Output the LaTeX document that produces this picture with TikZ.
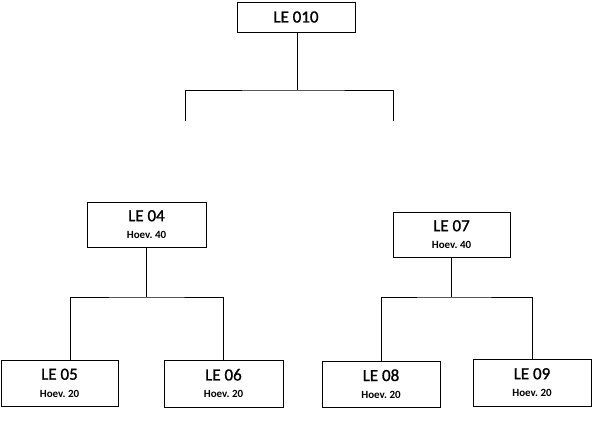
\documentclass[tikz,border=0pt]{standalone}
\usepackage{fontspec}
\setmainfont{Carlito}
\newfontfamily\medfont[FakeBold=1.2]{Carlito}
\frenchspacing
\newcommand{\bigtxt}[1]{{\medfont\fontsize{17}{19}\selectfont #1}}
\newcommand{\smalltxt}[1]{{\fontsize{11}{13}\selectfont\bfseries #1}}
\begin{document}
\begin{tikzpicture}[x=1pt,y=-1pt,
  box/.style={draw=black,line width=0.9pt,fill=white,inner sep=0pt,align=center},
  conn/.style={draw=black,line width=0.9pt}]
\useasboundingbox (0,0) rectangle (592,444);
\node[box,minimum width=118pt,minimum height=30pt] (le010) at (296,17) {\bigtxt{LE 010}};
\node[box,minimum width=119pt,minimum height=45pt] (le04) at (146.5,224.5) {\bigtxt{LE 04}\\[5.5pt]\smalltxt{Hoev. 40}};
\node[box,minimum width=117pt,minimum height=45pt] (le07) at (451.5,234.5) {\bigtxt{LE 07}\\[5.5pt]\smalltxt{Hoev. 40}};
\node[box,minimum width=117pt,minimum height=46pt] (le05) at (59.5,383) {\bigtxt{LE 05}\\[5.5pt]\smalltxt{Hoev. 20}};
\node[box,minimum width=119pt,minimum height=47pt] (le06) at (223.5,383.5) {\bigtxt{LE 06}\\[5.5pt]\smalltxt{Hoev. 20}};
\node[box,minimum width=118pt,minimum height=46pt] (le08) at (381,384) {\bigtxt{LE 08}\\[5.5pt]\smalltxt{Hoev. 20}};
\node[box,minimum width=118pt,minimum height=47pt] (le09) at (532,382.5) {\bigtxt{LE 09}\\[5.5pt]\smalltxt{Hoev. 20}};
% top connector
\coordinate (j0) at (297,90);
\coordinate (tl) at (185,121);
\coordinate (tr) at (393,121);
\draw[conn] (le010.south -| j0) -- (j0);
\draw[conn] (tl) |- (j0) -| (tr);
% LE 04 connector
\coordinate (j1) at (le04.south |- 0,297);
\draw[conn] (le04.south) -- (j1);
\draw[conn] (le05.north -| 70,0) |- (j1) -| (le06.north);
% LE 07 connector
\coordinate (j2) at (le07.south |- 0,297);
\draw[conn] (le07.south) -- (j2);
\draw[conn] (le08.north) |- (j2) -| (le09.north);
\end{tikzpicture}
\end{document}
